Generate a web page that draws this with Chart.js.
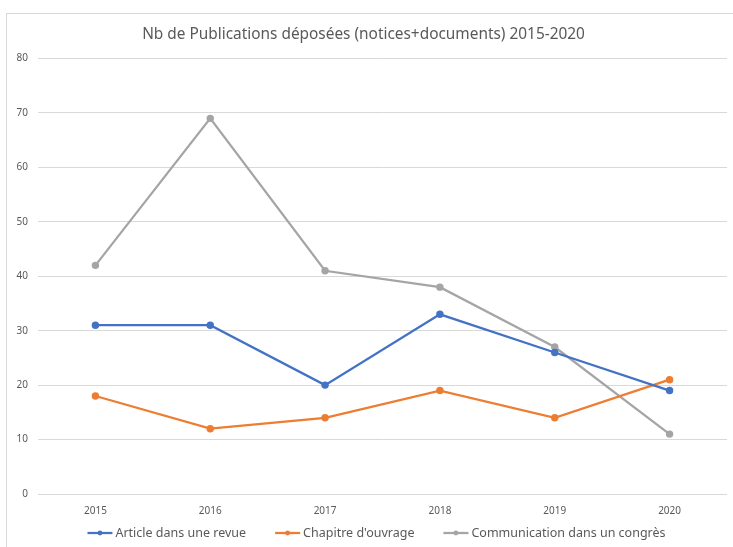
<!DOCTYPE html>
<html>
<head>
<meta charset="utf-8">
<script src="https://cdn.jsdelivr.net/npm/chart.js@4"></script>
<style>
  html, body { margin: 0; padding: 0; background: #fff; }
  body { width: 733px; height: 547px; position: relative; overflow: hidden; }
  #frame { position: absolute; left: 6px; top: 13px; width: 740px; height: 560px; border: 1px solid #d9d9d9; box-sizing: border-box; }
  #wrap { position: absolute; left: 0; top: 0; width: 733px; height: 547px; }
</style>
</head>
<body>
<div id="frame"></div>
<div id="wrap"><canvas id="chart"></canvas></div>
<script>
// données du graphique
const years = ["2015", "2016", "2017", "2018", "2019", "2020"];
const articles = [31, 31, 20, 33, 26, 19];
const chapitres = [18, 12, 14, 19, 14, 21];
const communications = [42, 69, 41, 38, 27, 11];
const yTicks = [0, 10, 20, 30, 40, 50, 60, 70, 80];

const fontFamily = "'Noto Sans', sans-serif";
const textColor = "#595959";

function serie(label, data, color) {
    return {
        label: label,
        data: data,
        borderColor: color,
        backgroundColor: color,
        borderWidth: 2.25,
        pointRadius: 2.6,
        pointHoverRadius: 2.6,
        pointStyle: "circle",
        tension: 0,
        fill: false
    };
}

// légende façon Excel : trait + point, centrée sous le graphique
const legendeExcel = {
    id: "legendeExcel",
    afterDraw(chart) {
        const c = chart.ctx;
        const lineW = 25, gap = 29, y = 533;
        c.save();
        c.font = "12.5px " + fontFamily;
        c.textBaseline = "middle";
        const items = chart.data.datasets.map(ds => ({
            ds: ds,
            w: lineW + 3 + c.measureText(ds.label).width
        }));
        const total = items.reduce((s, it) => s + it.w, 0) + gap * (items.length - 1);
        let x = (chart.chartArea.left + chart.chartArea.right) / 2 - 6 - total / 2;
        items.forEach(it => {
            c.strokeStyle = it.ds.borderColor;
            c.fillStyle = it.ds.borderColor;
            c.lineWidth = 2.25;
            c.beginPath();
            c.moveTo(x, y);
            c.lineTo(x + lineW, y);
            c.stroke();
            c.beginPath();
            c.arc(x + lineW / 2, y, 2.4, 0, Math.PI * 2);
            c.fill();
            c.fillStyle = textColor;
            c.fillText(it.ds.label, x + lineW + 3, y);
            x += it.w + gap;
        });
        c.restore();
    }
};

const ctx = document.getElementById("chart").getContext("2d");
new Chart(ctx, {
    type: "line",
    data: {
        labels: years,
        datasets: [
            serie("Article dans une revue", articles, "#4472C4"),
            serie("Chapitre d'ouvrage", chapitres, "#ED7D31"),
            serie("Communication dans un congrès", communications, "#A5A5A5")
        ]
    },
    plugins: [legendeExcel],
    options: {
        responsive: true,
        maintainAspectRatio: false,
        animation: false,
        layout: { padding: { left: 0, right: 6, top: 0, bottom: 19 } },
        plugins: {
            title: {
                display: true,
                text: "Nb de Publications déposées (notices+documents) 2015-2020",
                color: textColor,
                font: { family: fontFamily, size: 15.4, weight: "normal" },
                padding: { top: 25, bottom: 15 }
            },
            legend: { display: false },
            tooltip: { enabled: false }
        },
        scales: {
            x: {
                offset: true,
                grid: { display: false, drawTicks: false },
                border: { display: false },
                ticks: {
                    color: textColor,
                    font: { family: fontFamily, size: 10 },
                    padding: 11,
                    maxRotation: 0
                }
            },
            y: {
                min: 0,
                max: 80,
                afterFit: function (scale) { scale.width = 38; },
                afterBuildTicks: function (scale) {
                    scale.ticks = yTicks.map(v => ({ value: v }));
                },
                grid: { color: "#d9d9d9", lineWidth: 1, drawTicks: false },
                border: { display: false },
                ticks: {
                    color: textColor,
                    font: { family: fontFamily, size: 10 },
                    padding: 10
                }
            }
        }
    }
});
</script>
</body>
</html>
